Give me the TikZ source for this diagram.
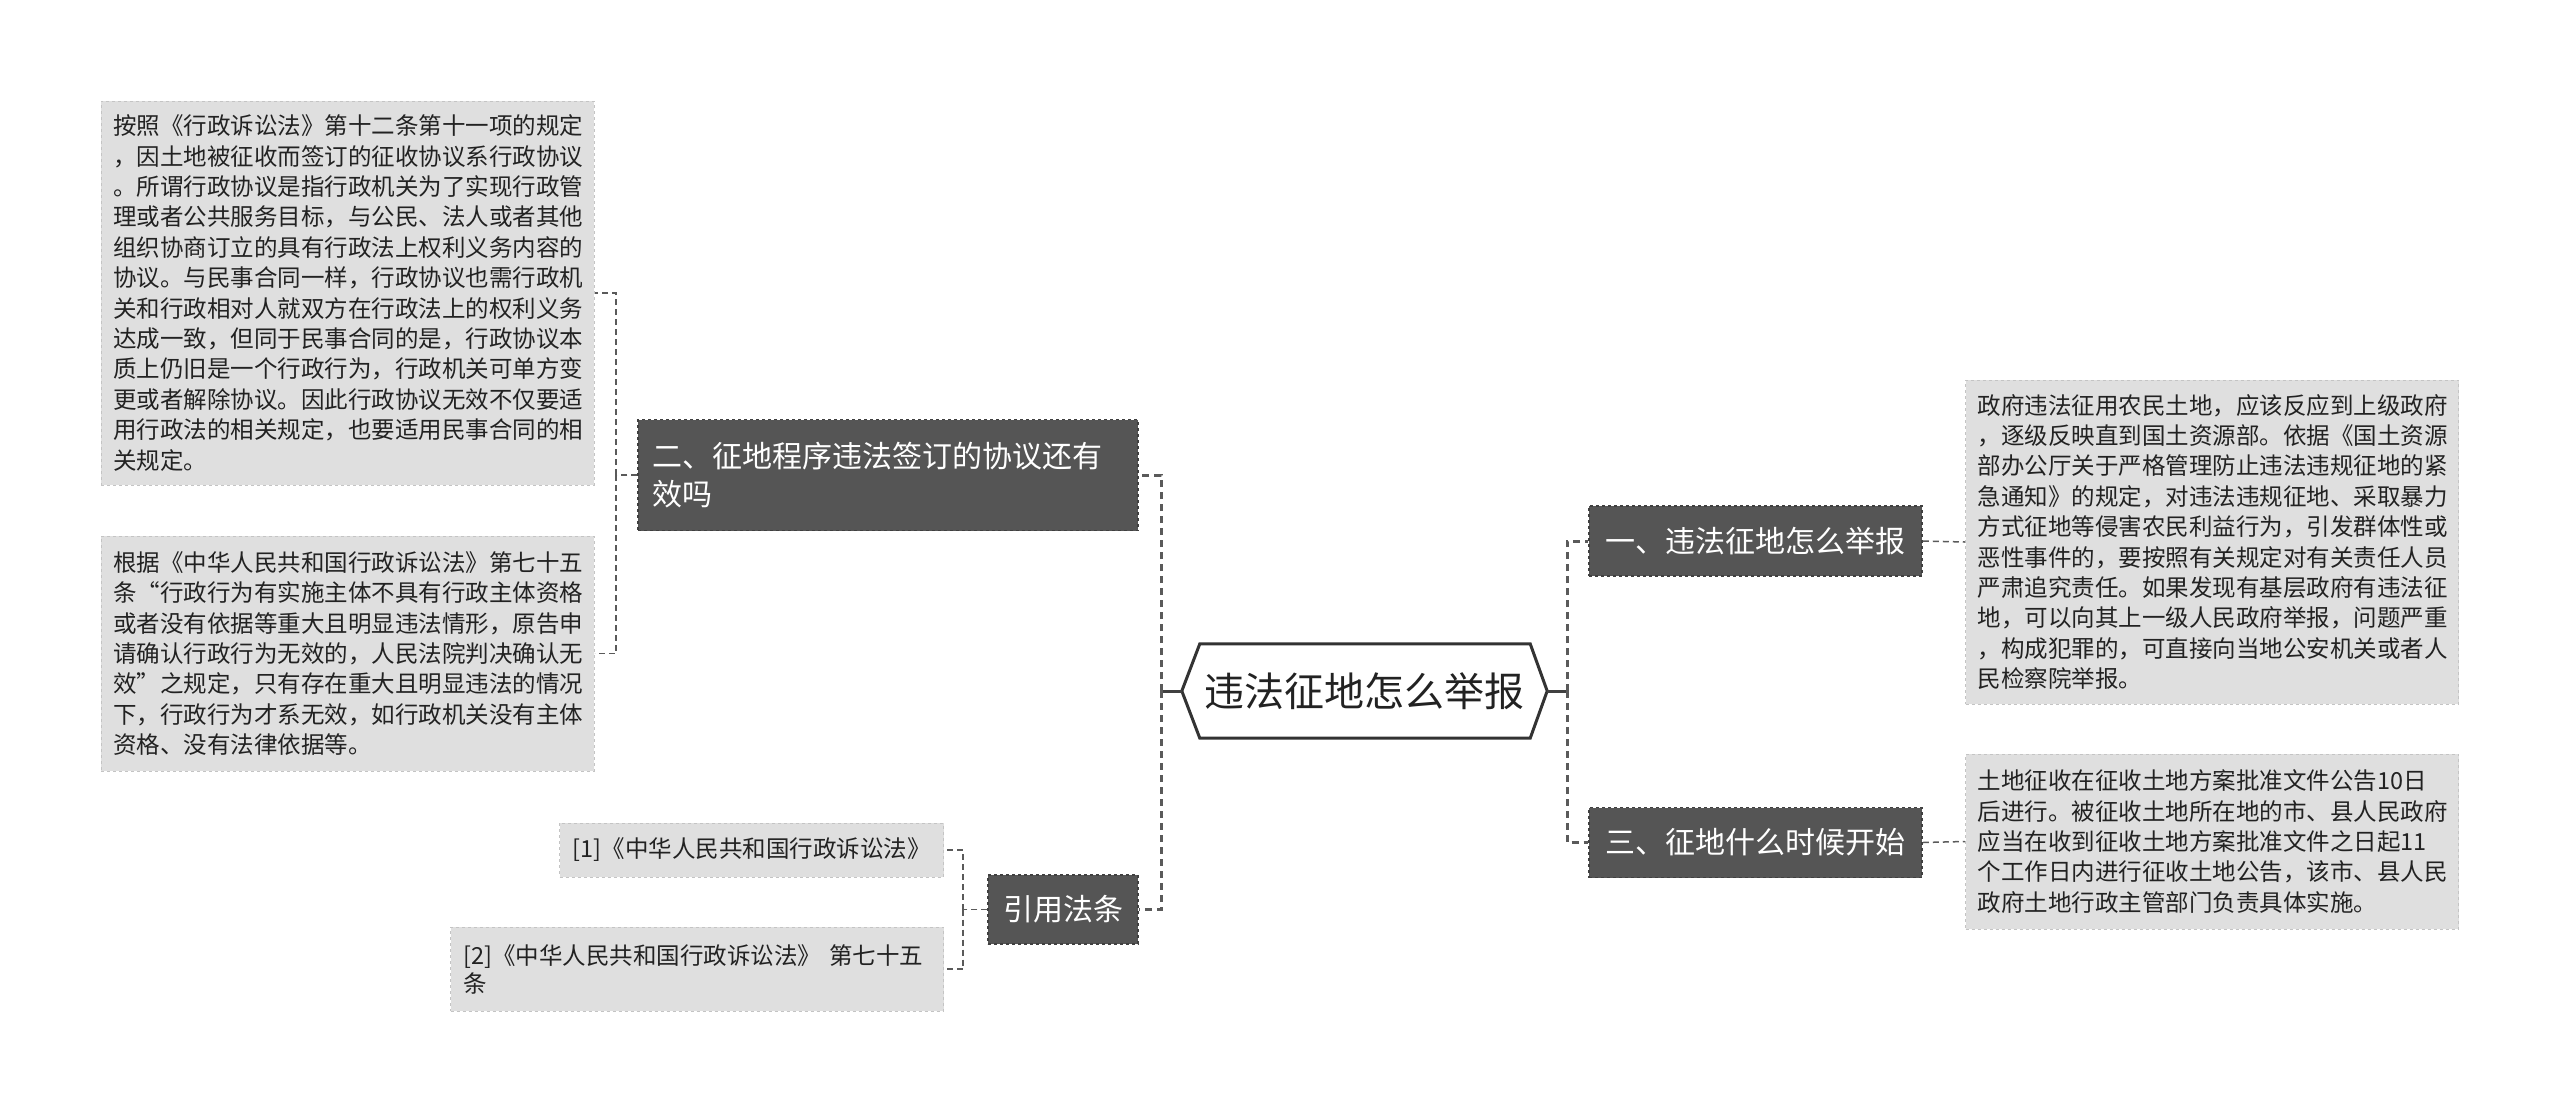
\documentclass[tikz,border=0pt]{standalone}
\usepackage{fontspec}
\setmainfont{Noto Sans CJK SC}
\definecolor{darkbox}{HTML}{555555}
\definecolor{lightbox}{HTML}{DFDFDF}
\definecolor{lightborder}{HTML}{C4C4C4}
\definecolor{lineclr}{HTML}{5A5A5A}
\definecolor{txtclr}{HTML}{222222}
\begin{document}
\begin{tikzpicture}[x=1pt,y=-1pt,
  txtbox/.style={draw=lightborder, dashed, line width=1, fill=lightbox, align=left, inner xsep=12, inner ysep=0, font=\fontsize{23.5}{30.4}\selectfont, text=txtclr},
  topic/.style={draw=black!75, dashed, line width=1.5, fill=darkbox, text=white, font=\fontsize{30}{38}\selectfont, inner xsep=14, inner ysep=0},
  conn/.style={draw=lineclr, dash pattern=on 6pt off 4pt, line width=1.5},
  trunk/.style={draw=lineclr, dash pattern=on 7pt off 5pt, line width=3},
  rootline/.style={draw=black!75, line width=3},
]
\useasboundingbox[fill=white] (0,0) rectangle (2560,1112);

% root
\node[inner sep=0, minimum width=365, minimum height=94, font=\fontsize{40}{48}\selectfont, text=txtclr] (root) at (1364.5,691) {违法征地怎么举报};
\draw[draw=black!80, line width=3, line join=miter] ([xshift=18]root.north west) -- ([xshift=-17]root.north east) -- (root.east) -- ([xshift=-17]root.south east) -- ([xshift=18]root.south west) -- (root.west) -- cycle;

% topics
\node[topic, minimum width=333, minimum height=70] (a1) at (1755.5,541) {一、违法征地怎么举报};
\node[topic, minimum width=333, minimum height=70] (a3) at (1755.5,842.5) {三、征地什么时候开始};
\node[topic, text width=472, minimum height=111, align=left] (a2) at (888,475) {二、征地程序违法签订的协议还有\\效吗};
\node[topic, minimum width=150, minimum height=69] (a4) at (1063,909.5) {引用法条};

% text boxes
\node[txtbox, text width=469, minimum height=384] (t1) at (347.5,293) {按照《行政诉讼法》第十二条第十一项的规定\\，因土地被征收而签订的征收协议系行政协议\\。所谓行政协议是指行政机关为了实现行政管\\理或者公共服务目标，与公民、法人或者其他\\组织协商订立的具有行政法上权利义务内容的\\协议。与民事合同一样，行政协议也需行政机\\关和行政相对人就双方在行政法上的权利义务\\达成一致，但同于民事合同的是，行政协议本\\质上仍旧是一个行政行为，行政机关可单方变\\更或者解除协议。因此行政协议无效不仅要适\\用行政法的相关规定，也要适用民事合同的相\\关规定。};
\node[txtbox, text width=469, minimum height=235] (t2) at (347.5,653.5) {根据《中华人民共和国行政诉讼法》第七十五\\条“行政行为有实施主体不具有行政主体资格\\或者没有依据等重大且明显违法情形，原告申\\请确认行政行为无效的，人民法院判决确认无\\效”之规定，只有存在重大且明显违法的情况\\下，行政行为才系无效，如行政机关没有主体\\资格、没有法律依据等。};
\node[txtbox, text width=469, minimum height=324] (t3) at (2212,542) {政府违法征用农民土地，应该反应到上级政府\\，逐级反映直到国土资源部。依据《国土资源\\部办公厅关于严格管理防止违法违规征地的紧\\急通知》的规定，对违法违规征地、采取暴力\\方式征地等侵害农民利益行为，引发群体性或\\恶性事件的，要按照有关规定对有关责任人员\\严肃追究责任。如果发现有基层政府有违法征\\地，可以向其上一级人民政府举报，问题严重\\，构成犯罪的，可直接向当地公安机关或者人\\民检察院举报。};
\node[txtbox, text width=469, minimum height=175] (t4) at (2212,841.5) {土地征收在征收土地方案批准文件公告10日\\后进行。被征收土地所在地的市、县人民政府\\应当在收到征收土地方案批准文件之日起11\\个工作日内进行征收土地公告，该市、县人民\\政府土地行政主管部门负责具体实施。};
\node[txtbox, inner xsep=13, minimum height=54, anchor=east] (c1) at (944,850) {[1]《中华人民共和国行政诉讼法》};
\node[txtbox, text width=467, inner xsep=13, minimum height=84, anchor=east, font=\fontsize{23.5}{28}\selectfont] (c2) at (944,969) {[2]《中华人民共和国行政诉讼法》 第七十五\\条};

% connectors
\coordinate (lj) at (1161,691);
\coordinate (rj) at (1567,691);
\draw[rootline] (root.west) -- (lj);
\draw[rootline] (root.east) -- (rj);
\draw[trunk] (lj) |- (a2.east);
\draw[trunk] (lj) |- (a4.east);
\draw[trunk] (rj) |- (a1.west);
\draw[trunk] (rj) |- (a3.west);

\coordinate (l2) at (616,475);
\draw[conn] (a2.west) -- (l2);
\draw[conn] (l2) |- (t1.east);
\draw[conn] (l2) |- (t2.east);

\coordinate (l4) at (963,909.5);
\draw[conn] (a4.west) -- (l4);
\draw[conn] (l4) |- (c1.east);
\draw[conn] (l4) |- (c2.east);

\draw[conn] (a1.east) -- (t3.west);
\draw[conn] (a3.east) -- (t4.west);
\end{tikzpicture}
\end{document}
